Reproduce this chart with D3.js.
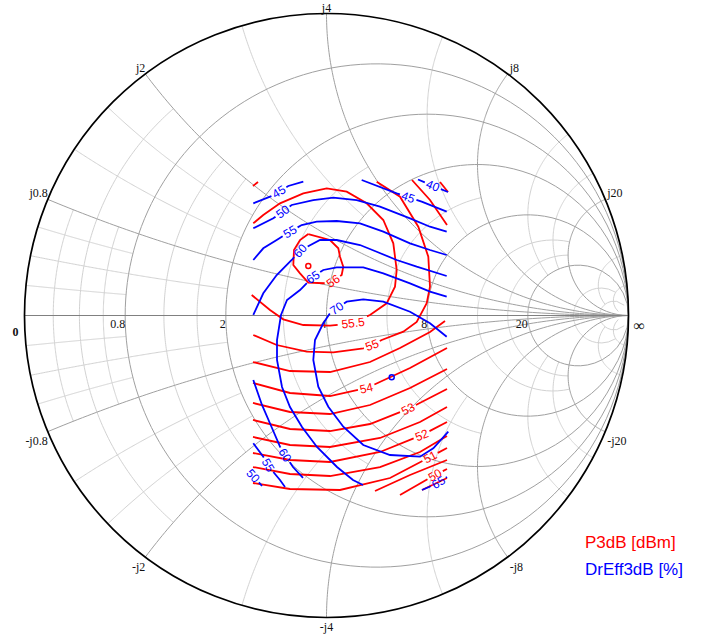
<!DOCTYPE html>
<html><head><meta charset="utf-8">
<script src="https://cdn.jsdelivr.net/npm/d3@7"></script>
<style>html,body{margin:0;padding:0;background:#fff;} svg{display:block}</style>
</head><body>
<svg id="chart" width="704" height="636"></svg>
<script>
// Smith chart grid is labelled in ohms, normalized to z0
const z0 = 4;
const realTickOhms = [0.8, 2, 4, 8, 20];
const imagTickOhms = [0.8, 2, 4, 8, 20];

// Load-pull contours, points given as reflection coefficient [re, im]
const p3dbLines = [
  [56, [[-0.0603,0.2698],[0.0116,0.2500],[0.0391,0.2225],[0.0447,0.1947],[0.0556,0.1616],[0.0503,0.1341],[0.0215,0.1142],[0.0007,0.1066],[-0.0603,0.1086],[-0.0877,0.1397],[-0.1099,0.1672],[-0.1076,0.2169],[-0.0877,0.2500],[-0.0603,0.2698]]],
  [55.5, [[-0.2477,0.0679],[-0.1871,0.0182],[-0.1430,-0.0126],[-0.0768,-0.0315],[0.0116,-0.0338],[0.0877,-0.0248],[0.1440,0.0017],[0.1993,0.0404],[0.2268,0.0954],[0.2324,0.1507],[0.2212,0.2391],[0.1881,0.3162],[0.1331,0.3715],[0.0669,0.4099],[0.0007,0.4212],[-0.0768,0.4046],[-0.1540,0.3715],[-0.2093,0.3328],[-0.2424,0.3053]]],
  [55, [[-0.2424,-0.0646],[-0.1649,-0.0977],[-0.0656,-0.1199],[0.0225,-0.1218],[0.1218,-0.1086],[0.1507,-0.0977],[0.1828,-0.0811],[0.2543,-0.0536],[0.2987,-0.0215],[0.3318,0.0404],[0.3427,0.0954],[0.3371,0.1947],[0.3040,0.2940],[0.2434,0.3934],[0.1662,0.4430]]],
  [55, [[-0.2434,0.4288],[-0.2268,0.4421]]],
  [54.5, [[-0.2434,-0.1540],[-0.1209,-0.1838],[0.0116,-0.1871],[0.1440,-0.1540],[0.2434,-0.1076],[0.3427,-0.0546],[0.3924,-0.0182]]],
  [54.5, [[0.2831,0.4487],[0.3427,0.3825],[0.3990,0.2997]]],
  [54, [[-0.2434,-0.2235],[-0.1209,-0.2566],[0.0116,-0.2666],[0.1341,-0.2401],[0.2765,-0.1738],[0.3990,-0.1076]]],
  [54, [[0.3758,0.4421],[0.4023,0.4089]]],
  [53.5, [[-0.2434,-0.2897],[-0.1209,-0.3195],[0.0116,-0.3262],[0.1440,-0.2964],[0.2765,-0.2401],[0.3990,-0.1772]]],
  [53, [[-0.2434,-0.3460],[-0.1209,-0.3758],[0.0116,-0.3825],[0.1440,-0.3593],[0.2699,-0.3096],[0.3990,-0.2434]]],
  [52.5, [[-0.2434,-0.4023],[-0.1209,-0.4288],[0.0116,-0.4354],[0.1772,-0.4056],[0.3096,-0.3526],[0.3990,-0.3030]]],
  [52, [[-0.2434,-0.4553],[-0.1209,-0.4785],[0.0116,-0.4851],[0.1772,-0.4520],[0.3162,-0.3957],[0.3990,-0.3526]]],
  [51.5, [[-0.2434,-0.5017],[-0.1209,-0.5248],[0.0116,-0.5315],[0.1772,-0.5017],[0.3096,-0.4520],[0.3990,-0.3990]]],
  [51, [[-0.2434,-0.5546],[-0.1209,-0.5745],[0.0447,-0.5778],[0.2103,-0.5381],[0.3427,-0.4685],[0.3990,-0.4387]]],
  [50.5, [[0.1606,-0.5811],[0.2765,-0.5281],[0.3990,-0.4785]]],
  [50, [[0.2434,-0.5944],[0.3593,-0.5281],[0.3990,-0.5083]]],
  [49.5, [[0.3162,-0.5778],[0.3990,-0.5381]]]
];
const p3dbLabels = [[56,0.0215,0.1142],[55.5,0.0877,-0.0248],[55,0.1507,-0.0977],[54,0.1325,-0.2412],[53,0.2709,-0.3106],[52,0.3152,-0.3957],[51,0.3427,-0.4675],[50,0.3593,-0.5281]];

const effLines = [
  [40, [[0.3030,0.4503],[0.4023,0.4089]]],
  [45, [[-0.2424,0.3715],[-0.1814,0.3957],[-0.1265,0.4288],[-0.0768,0.4430]]],
  [45, [[0.1165,0.4486],[0.2324,0.4046],[0.3152,0.3768],[0.3980,0.3437]]],
  [50, [[-0.2424,0.2887],[-0.1761,0.3218],[-0.1152,0.3659],[-0.0437,0.3824],[0.0225,0.3900],[0.1000,0.3824],[0.1771,0.3602],[0.2765,0.3218],[0.3427,0.2940],[0.3980,0.2775]]],
  [55, [[-0.2424,0.1838],[-0.2093,0.2225],[-0.1649,0.2500],[-0.1209,0.2775],[-0.0821,0.2996],[-0.0324,0.3106],[0.0338,0.3129],[0.1109,0.3053],[0.1881,0.2775],[0.2765,0.2391],[0.3427,0.2169],[0.3980,0.2003]]],
  [60, [[-0.2424,0.0017],[-0.2093,0.0735],[-0.1649,0.1341],[-0.1152,0.1838],[-0.0877,0.2146],[-0.0215,0.2500],[0.0338,0.2500],[0.1109,0.2334],[0.1662,0.2112],[0.2324,0.1838],[0.2987,0.1616],[0.3980,0.1308]]],
  [60, [[-0.2424,-0.2136],[-0.2136,-0.2963],[-0.1805,-0.3725],[-0.1540,-0.4344],[-0.1374,-0.4619],[-0.1109,-0.5016],[-0.0778,-0.5380]]],
  [65, [[0.3980,0.0622],[0.3427,0.0788],[0.2765,0.1066],[0.1881,0.1397],[0.1218,0.1596],[0.0338,0.1596],[-0.0106,0.1507],[-0.0447,0.1275],[-0.0877,0.0844],[-0.1308,0.0513],[-0.1507,0.0017],[-0.1639,-0.0811],[-0.1639,-0.1473],[-0.1473,-0.2367],[-0.1209,-0.3030],[-0.0811,-0.3692],[-0.0315,-0.4354],[0.0348,-0.5016],[0.0877,-0.5447],[0.1209,-0.5612]]],
  [65, [[0.3162,-0.5778],[0.3626,-0.5579],[0.3990,-0.5347]]],
  [70, [[0.3980,-0.0702],[0.3427,-0.0258],[0.2765,0.0126],[0.1881,0.0457],[0.1218,0.0536],[0.0669,0.0457],[0.0338,0.0238],[0.0116,0.0073],[-0.0106,-0.0258],[-0.0381,-0.0811],[-0.0437,-0.1473],[-0.0272,-0.2357],[0.0060,-0.3020],[0.0556,-0.3682],[0.1218,-0.4288],[0.2103,-0.4619],[0.3096,-0.4675],[0.3536,-0.4397],[0.4033,-0.3847]]],
  [55, [[-0.2424,-0.4231],[-0.2093,-0.4675],[-0.1871,-0.5049],[-0.1540,-0.5447],[-0.1374,-0.5678]]],
  [50, [[-0.2599,-0.5115],[-0.2136,-0.5645]]]
];
const effLabels = [[40,0.3510,0.4270],[45,-0.1570,0.4090],[45,0.2695,0.3890],[50,-0.1440,0.3420],[55,-0.1210,0.2780],[60,-0.0877,0.2146],[60,-0.1374,-0.4619],[65,-0.0447,0.1275],[65,0.3740,-0.5580],[70,0.0338,0.0238],[55,-0.1980,-0.4980],[50,-0.2434,-0.5314]];

// Optimum points of each quantity
const p3dbMax = [-0.0603, 0.1639];
const effMax = [0.2159, -0.2046];

const legendItems = [["P3dB [dBm]", "#ff0000"], ["DrEff3dB [%]", "#0000ff"]];

// ---------------------------------------------------------------
const svg = d3.select("#chart");
const cx = 326.5, cy = 315.5, R = 302;
const gx = d3.scaleLinear().domain([-1, 1]).range([cx - R, cx + R]);
const gy = d3.scaleLinear().domain([-1, 1]).range([cy + R, cy - R]);
const px = p => [gx(p[0]), gy(p[1])];

// normalized impedance -> reflection coefficient
function gamma(r, x) {
  const den = (r + 1) * (r + 1) + x * x;
  return [(r * r + x * x - 1) / den, 2 * x / den];
}
function rPath(r, x0, x1) {
  const a0 = Math.atan(x0), a1 = Math.atan(x1), n = 160, pts = [];
  for (let i = 0; i <= n; i++) pts.push(px(gamma(r, Math.tan(a0 + (a1 - a0) * i / n))));
  return pts;
}
function xPath(x, r0, r1) {
  const a0 = Math.atan(r0), a1 = Math.atan(r1), n = 160, pts = [];
  for (let i = 0; i <= n; i++) pts.push(px(gamma(Math.tan(a0 + (a1 - a0) * i / n), x)));
  return pts;
}
const lineGen = d3.line();
const grid = svg.append("g").attr("fill", "none");

// minor grid: value, extent of the line along the other coordinate
const minorR = [[0.05,0.2],[0.1,0.5],[0.15,0.2],[0.3,0.5],[0.4,0.5],[0.75,1],[1.5,2],[3,5],[4,5],[10,20],[20,50]];
const minorX = [[0.05,0.2],[0.1,0.5],[0.15,0.2],[0.3,0.5],[0.4,0.5],[0.75,1],[1.5,2],[3,5],[4,5],[10,20],[20,50]];
minorR.forEach(([r, e]) => grid.append("path").attr("d", lineGen(rPath(r, -e, e))).attr("stroke", "#d2d2d2"));
minorX.forEach(([x, e]) => [x, -x].forEach(s =>
  grid.append("path").attr("d", lineGen(xPath(s, 0, e))).attr("stroke", "#d2d2d2")));

// major grid
realTickOhms.map(v => v / z0).forEach(r => grid.append("path").attr("d", lineGen(rPath(r, -1e9, 1e9))).attr("stroke", "#a0a0a0"));
imagTickOhms.map(v => v / z0).forEach(x => [x, -x].forEach(s =>
  grid.append("path").attr("d", lineGen(xPath(s, 0, 1e9))).attr("stroke", "#a0a0a0")));
// real axis
grid.append("line").attr("x1", gx(-1)).attr("x2", gx(1)).attr("y1", gy(0)).attr("y2", gy(0)).attr("stroke", "#808080");
// outer circle
grid.append("circle").attr("cx", gx(0)).attr("cy", gy(0)).attr("r", gx(1) - gx(0)).attr("stroke", "#000").attr("stroke-width", 1.7);

// axis labels
const lab = svg.append("g").attr("font-family", "'Liberation Serif', 'Times New Roman', serif").attr("font-size", 12).attr("fill", "#111");
lab.append("text").attr("x", gx(-1) - 6).attr("y", gy(0) + 20).attr("text-anchor", "end").attr("font-weight", "bold").text("0");
realTickOhms.forEach(v => {
  const g = gamma(v / z0, 0);
  lab.append("text").attr("x", gx(g[0])).attr("y", gy(0) + 12.5).attr("text-anchor", "end").text(v);
});
lab.append("text").attr("x", gx(1) + 5).attr("y", gy(0) + 15).attr("font-size", 16).text("\u221e");
imagTickOhms.forEach(v => {
  [1, -1].forEach(sgn => {
    const g = gamma(0, sgn * v / z0);
    const X = gx(g[0]), Y = gy(g[1]);
    const anchor = Math.abs(g[0]) < 0.05 ? "middle" : (g[0] < 0 ? "end" : "start");
    const dx = anchor === "start" ? 2 : 0;
    lab.append("text").attr("x", X + dx).attr("y", sgn > 0 ? Y - 2 : Y + 13.5)
      .attr("text-anchor", anchor).text((sgn < 0 ? "-" : "") + "j" + v);
  });
});

// contour lines with gaps for their labels
const labelFont = 12;
function drawSet(lines, labels, color) {
  const g = svg.append("g");
  const polys = lines.map(([lv, pts]) => ({ lv, pts: pts.map(px), gaps: [] }));
  const placed = [];
  labels.forEach(([lv, re, im]) => {
    const P = px([re, im]);
    let best = null;
    polys.forEach(poly => {
      if (poly.lv !== lv) return;
      let s = 0;
      for (let i = 0; i < poly.pts.length - 1; i++) {
        const a = poly.pts[i], b = poly.pts[i + 1];
        const dx = b[0] - a[0], dy = b[1] - a[1], L = Math.hypot(dx, dy);
        let t = ((P[0] - a[0]) * dx + (P[1] - a[1]) * dy) / (L * L);
        t = Math.max(0, Math.min(1, t));
        const q = [a[0] + t * dx, a[1] + t * dy];
        const d = Math.hypot(q[0] - P[0], q[1] - P[1]);
        if (!best || d < best.d) best = { d, poly, s: s + t * L, q, ang: Math.atan2(dy, dx) };
        s += L;
      }
    });
    if (!best) return;
    const txt = String(lv);
    const w = txt.length * labelFont * 0.56 + 4;
    best.poly.gaps.push([best.s - w / 2, best.s + w / 2]);
    let ang = best.ang * 180 / Math.PI;
    if (ang > 90) ang -= 180;
    if (ang < -90) ang += 180;
    placed.push({ txt, q: best.q, ang });
  });
  polys.forEach(poly => {
    const cum = [0];
    for (let i = 1; i < poly.pts.length; i++)
      cum.push(cum[i - 1] + Math.hypot(poly.pts[i][0] - poly.pts[i - 1][0], poly.pts[i][1] - poly.pts[i - 1][1]));
    const total = cum[cum.length - 1];
    const at = s => {
      let i = 1;
      while (i < cum.length - 1 && cum[i] < s) i++;
      const t = (s - cum[i - 1]) / ((cum[i] - cum[i - 1]) || 1);
      const a = poly.pts[i - 1], b = poly.pts[i];
      return [a[0] + t * (b[0] - a[0]), a[1] + t * (b[1] - a[1])];
    };
    const gaps = poly.gaps.sort((a, b) => a[0] - b[0]);
    const keep = [];
    let start = 0;
    gaps.forEach(([g0, g1]) => { if (g0 > start) keep.push([start, g0]); start = Math.max(start, g1); });
    if (start < total) keep.push([start, total]);
    keep.forEach(([s0, s1]) => {
      const seg = [at(s0)];
      for (let i = 0; i < cum.length; i++) if (cum[i] > s0 && cum[i] < s1) seg.push(poly.pts[i]);
      seg.push(at(s1));
      g.append("path").attr("d", lineGen(seg)).attr("fill", "none").attr("stroke", color).attr("stroke-width", 1.8);
    });
  });
  placed.forEach(p => {
    g.append("text").attr("transform", `translate(${p.q[0]},${p.q[1]}) rotate(${p.ang})`)
      .attr("text-anchor", "middle").attr("dy", "0.35em")
      .attr("font-family", "'Liberation Sans', Arial, sans-serif").attr("font-size", labelFont)
      .attr("fill", color).text(p.txt);
  });
}
drawSet(p3dbLines, p3dbLabels, "#ff0000");
drawSet(effLines, effLabels, "#0000ff");

svg.append("circle").attr("cx", gx(p3dbMax[0])).attr("cy", gy(p3dbMax[1])).attr("r", 2.5).attr("fill", "none").attr("stroke", "#ff0000").attr("stroke-width", 1.5);
svg.append("circle").attr("cx", gx(effMax[0])).attr("cy", gy(effMax[1])).attr("r", 2.5).attr("fill", "none").attr("stroke", "#0000ff").attr("stroke-width", 1.5);

// legend
const leg = svg.append("g").attr("font-family", "'Liberation Sans', Arial, sans-serif").attr("font-size", 17);
legendItems.forEach(([t, c], i) => leg.append("text").attr("x", 585).attr("y", 548 + i * 27).attr("fill", c).text(t));
</script>
</body></html>
